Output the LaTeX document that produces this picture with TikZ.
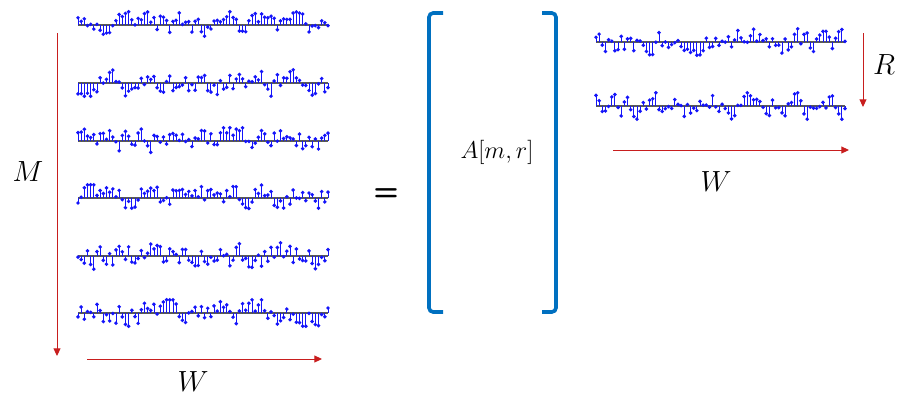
\documentclass[tikz,border=0pt]{standalone}
\usepackage{amsmath, amssymb}
\usepackage{xcolor}
\usetikzlibrary{arrows.meta}

\definecolor{bracketblue}{RGB}{0,112,192}
\definecolor{arrowred}{RGB}{200,30,30}
\definecolor{stemblue}{RGB}{20,20,250}

% one row of samples: start x, baseline y, end x, seed
\newcommand{\stemrow}[4]{%
  \pgfmathsetseed{#4}
  \draw[zeroline] (#1,#2) -- (#3,#2);
  \xdef\vprev{0}
  \foreach \i in {0,...,79} {
    \pgfmathsetmacro\xx{#1+(\i/79)*(#3-#1)}
    \pgfmathsetmacro\vv{max(-1.2,min(1.2,0.45*\vprev+rand))}
    \xdef\vprev{\vv}
    \draw[stemline] (\xx,#2) -- (\xx,#2-11*\vv);
    \fill[stemblue] (\xx,#2-11*\vv) circle[radius=1.4pt];
  }
}

\begin{document}
\begin{tikzpicture}[x=0.025cm, y=-0.025cm,
    zeroline/.style={draw=gray!70!black, line width=0.9pt},
    stemline/.style={draw=stemblue, line width=0.6pt},
    redarrow/.style={draw=arrowred, line width=0.7pt, -{Triangle[length=5.5pt,width=5pt]}},
    bracket/.style={draw=bracketblue, line width=2.6pt, rounded corners=3pt},
    lbl/.style={font=\fontsize{21.5}{26}\selectfont}]
    \useasboundingbox (0,0) rectangle (904,404);

    % Left block: M rows of length W
    \foreach \y/\sd in {25/11,83/23,141/37,198/41,256/53,313/67} {
        \stemrow{78}{\y}{328}{\sd}
    }
    \coordinate (mtop) at (57,33);
    \coordinate (mbot) at (57,356);
    \draw[redarrow] (mtop) -- (mbot);
    \node[lbl] (mlabel) at (28,172) {$M$};

    \coordinate (wleft) at (87,359);
    \coordinate (wright) at (322,359);
    \draw[redarrow] (wleft) -- (wright);
    \node[lbl] (wlabel) at (193,382) {$W$};

    % equals sign
    \node[font=\huge\bfseries\sffamily] (eq) at (386,195) {=};

    % Matrix A[m,r]
    \draw[bracket] (443,13) -- (429,13) -- (429,312) -- (443,312);
    \draw[bracket] (542,13) -- (556,13) -- (556,312) -- (542,312);
    \node[font=\fontsize{18.5}{23}\selectfont] (amat) at (497,152) {$A[m,r]$};

    % Right block: R rows of length W
    \foreach \y/\sd in {42/71,106/89} {
        \stemrow{596}{\y}{845}{\sd}
    }
    \coordinate (rtop) at (863,33);
    \coordinate (rbot) at (863,107);
    \draw[redarrow] (rtop) -- (rbot);
    \node[lbl] (rlabel) at (884,65) {$R$};

    \coordinate (wleft2) at (613,150);
    \coordinate (wright2) at (849,150);
    \draw[redarrow] (wleft2) -- (wright2);
    \node[lbl] (wlabel2) at (716,182) {$W$};
\end{tikzpicture}
\end{document}
